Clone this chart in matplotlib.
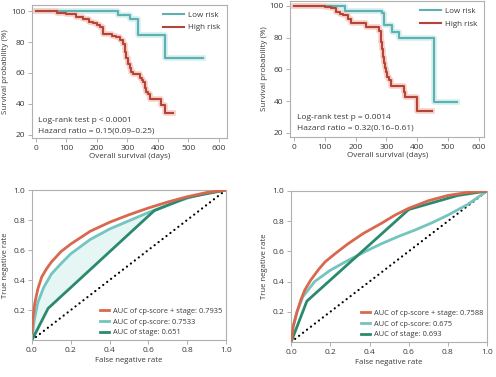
import matplotlib
matplotlib.use("Agg")
import matplotlib.pyplot as plt
import numpy as np

plt.rcParams['font.family'] = ['Open Sans', 'DejaVu Sans']

# ---- Kaplan-Meier data (days, survival %) ----
km1_low_t = [0, 269, 308, 335, 422, 548]
km1_low_s = [100, 97.4, 94.6, 84.3, 70, 70]
km1_high_t = [0, 46, 70, 100, 130, 155, 175, 188, 200, 209, 220, 250, 264, 275, 286, 291, 296, 302, 308, 313, 319, 340, 346, 351, 357, 362, 368, 373, 406, 411, 422, 449]
km1_high_s = [100, 100, 99, 98, 96.5, 94.6, 93, 92, 91, 89.9, 85, 84, 83.4, 81.3, 79, 73.7, 70, 66, 63, 60.8, 59.2, 57, 55.5, 54, 50, 48, 46.7, 43.5, 43.5, 39, 34, 34]

km2_low_t = [0, 164, 287, 292, 319, 341, 455, 530]
km2_low_s = [100, 96.5, 95.8, 88, 83.8, 79.6, 39.6, 39.6]
km2_high_t = [0, 67, 100, 121, 137, 150, 159, 175, 185, 228, 233, 271, 276, 281, 284, 287, 290, 292, 295, 298, 303, 309, 314, 351, 356, 362, 400, 448]
km2_high_s = [100, 100, 99.3, 98.5, 96.4, 95, 94, 92, 89.5, 89.5, 87, 87, 84, 80.6, 77, 73, 68, 64, 61, 58.5, 55.5, 53, 49.5, 49.5, 46, 42.7, 34, 34]

km_text1 = ["Log-rank test p < 0.0001", "Hazard ratio = 0.15(0.09\u20130.25)"]
km_text2 = ["Log-rank test p = 0.0014", "Hazard ratio = 0.32(0.16\u20130.61)"]

# ---- ROC data ----
roc1_combo_x = [0, 0.005, 0.015, 0.03, 0.05, 0.075, 0.1, 0.15, 0.2, 0.3, 0.4, 0.5, 0.6, 0.7, 0.8, 0.9, 1.0]
roc1_combo_y = [0.05, 0.15, 0.25, 0.34, 0.42, 0.475, 0.52, 0.59, 0.64, 0.725, 0.785, 0.835, 0.88, 0.92, 0.955, 0.983, 1.0]
roc1_cp_x = [0, 0.01, 0.03, 0.06, 0.1, 0.15, 0.2, 0.3, 0.4, 0.5, 0.6, 0.7, 0.8, 0.9, 1.0]
roc1_cp_y = [0.0, 0.12, 0.25, 0.35, 0.44, 0.51, 0.575, 0.67, 0.74, 0.795, 0.85, 0.9, 0.945, 0.98, 1.0]
roc1_stage_x = [0, 0.083, 0.63, 0.8, 1.0]
roc1_stage_y = [0, 0.211, 0.862, 0.95, 1.0]
roc1_labels = ["AUC of cp-score + stage: 0.7935", "AUC of cp-score: 0.7533", "AUC of stage: 0.651"]

roc2_combo_x = [0, 0.01, 0.03, 0.05, 0.07, 0.1, 0.14, 0.173, 0.22, 0.29, 0.37, 0.46, 0.53, 0.6, 0.7, 0.8, 0.9, 1.0]
roc2_combo_y = [0.0, 0.1, 0.2, 0.28, 0.345, 0.41, 0.48, 0.53, 0.58, 0.65, 0.72, 0.785, 0.84, 0.885, 0.935, 0.97, 0.99, 1.0]
roc2_cp_x = [0, 0.01, 0.03, 0.06, 0.12, 0.2, 0.29, 0.38, 0.46, 0.55, 0.63, 0.72, 0.8, 0.9, 1.0]
roc2_cp_y = [0.0, 0.1, 0.2, 0.3, 0.40, 0.475, 0.54, 0.6, 0.65, 0.70, 0.74, 0.79, 0.84, 0.91, 1.0]
roc2_stage_x = [0, 0.08, 0.6, 0.85, 1.0]
roc2_stage_y = [0, 0.27, 0.877, 0.97, 1.0]
roc2_labels = ["AUC of cp-score + stage: 0.7588", "AUC of cp-score: 0.675", "AUC of stage: 0.693"]

low_col = "#5fb0b0"
high_col = "#b3443a"
red_col = "#d9684e"
teal_col = "#74c4bf"
green_col = "#2b8a6e"
spine_col = "#b0b0b0"
text_col = "#3a3a3a"

fig = plt.figure(figsize=(4.96, 3.77), dpi=100)


def style(ax):
    for s in ax.spines.values():
        s.set_color(spine_col)
        s.set_linewidth(0.8)
    ax.tick_params(direction="out", length=3, width=0.7, colors=spine_col,
                   labelcolor=text_col, labelsize=6.0, pad=2)


def km_panel(rect, lt, ls, ht, hs, texts, xlim, ylim, tx, ty):
    ax = fig.add_axes(rect)
    # soft glow under the curves
    ax.step(lt, ls, where="post", color="#d3eeee", lw=4, zorder=1)
    ax.step(ht, hs, where="post", color="#f8cfc6", lw=4, zorder=1)
    ax.step(lt, ls, where="post", color=low_col, lw=1.5, label="Low risk", zorder=2)
    ax.step(ht, hs, where="post", color=high_col, lw=1.5, label="High risk", zorder=2)
    ax.set_xlim(*xlim)
    ax.set_ylim(*ylim)
    ax.set_xticks([0, 100, 200, 300, 400, 500, 600])
    ax.set_yticks([20, 40, 60, 80, 100])
    ax.set_xlabel("Overall survival (days)", fontsize=5.8, color=text_col, labelpad=1)
    ax.set_ylabel("Survival probability (%)", fontsize=5.8, color=text_col, labelpad=1)
    ax.text(tx, ty[0], texts[0], transform=ax.transAxes, fontsize=6.0, color=text_col, va="center")
    ax.text(tx, ty[1], texts[1], transform=ax.transAxes, fontsize=6.0, color=text_col, va="center")
    leg = ax.legend(loc="upper right", frameon=False, fontsize=5.8, handlelength=2.6,
                    borderaxespad=0.4, labelspacing=0.6, handletextpad=0.5)
    for t in leg.get_texts():
        t.set_color(text_col)
    style(ax)
    return ax


def roc_panel(rect, cx, cy, px, py, sx, sy, labels, shade=False):
    ax = fig.add_axes(rect)
    if shade:
        grid = np.linspace(0, 1, 201)
        ax.fill_between(grid, np.interp(grid, px, py), np.interp(grid, sx, sy),
                        color="#e6f6f5", lw=0, zorder=0)
    ax.plot([0, 1], [0, 1], color="black", lw=1.6, ls=(0, (0.05, 2.2)),
            dash_capstyle="round", zorder=1)
    ax.plot(cx, cy, color=red_col, lw=2, label=labels[0], zorder=3)
    ax.plot(px, py, color=teal_col, lw=2, label=labels[1], zorder=2)
    ax.plot(sx, sy, color=green_col, lw=2, label=labels[2], zorder=2)
    ax.set_xlim(0, 1)
    ax.set_ylim(0, 1)
    ax.set_xticks([0, 0.2, 0.4, 0.6, 0.8, 1.0])
    ax.set_xticklabels(["0.0", "0.2", "0.4", "0.6", "0.8", "1.0"])
    ax.set_yticks([0.2, 0.4, 0.6, 0.8, 1.0])
    ax.set_yticklabels(["0.2", "0.4", "0.6", "0.8", "1.0"])
    ax.set_xlabel("False negative rate", fontsize=5.6, color=text_col, labelpad=2)
    ax.set_ylabel("True negative rate", fontsize=5.6, color=text_col, labelpad=3)
    leg = ax.legend(loc="lower right", frameon=False, fontsize=5.4, handlelength=1.2,
                    borderaxespad=0.2, borderpad=0.3, labelspacing=0.45, handletextpad=0.5)
    for t in leg.get_texts():
        t.set_color(text_col)
    style(ax)
    return ax


km_panel([0.0645, 0.634, 0.393, 0.353], km1_low_t, km1_low_s, km1_high_t, km1_high_s,
         km_text1, (-13, 626), (18, 104), 0.03, (0.13, 0.055))
km_panel([0.585, 0.637, 0.391, 0.36], km2_low_t, km2_low_s, km2_high_t, km2_high_s,
         km_text2, (-13, 618), (17.5, 103), 0.036, (0.14, 0.066))
roc_panel([0.0645, 0.098, 0.391, 0.398], roc1_combo_x, roc1_combo_y, roc1_cp_x, roc1_cp_y,
          roc1_stage_x, roc1_stage_y, roc1_labels, shade=True)
roc_panel([0.587, 0.093, 0.395, 0.4005], roc2_combo_x, roc2_combo_y, roc2_cp_x, roc2_cp_y,
          roc2_stage_x, roc2_stage_y, roc2_labels)

fig.savefig("out.png", dpi=100)
